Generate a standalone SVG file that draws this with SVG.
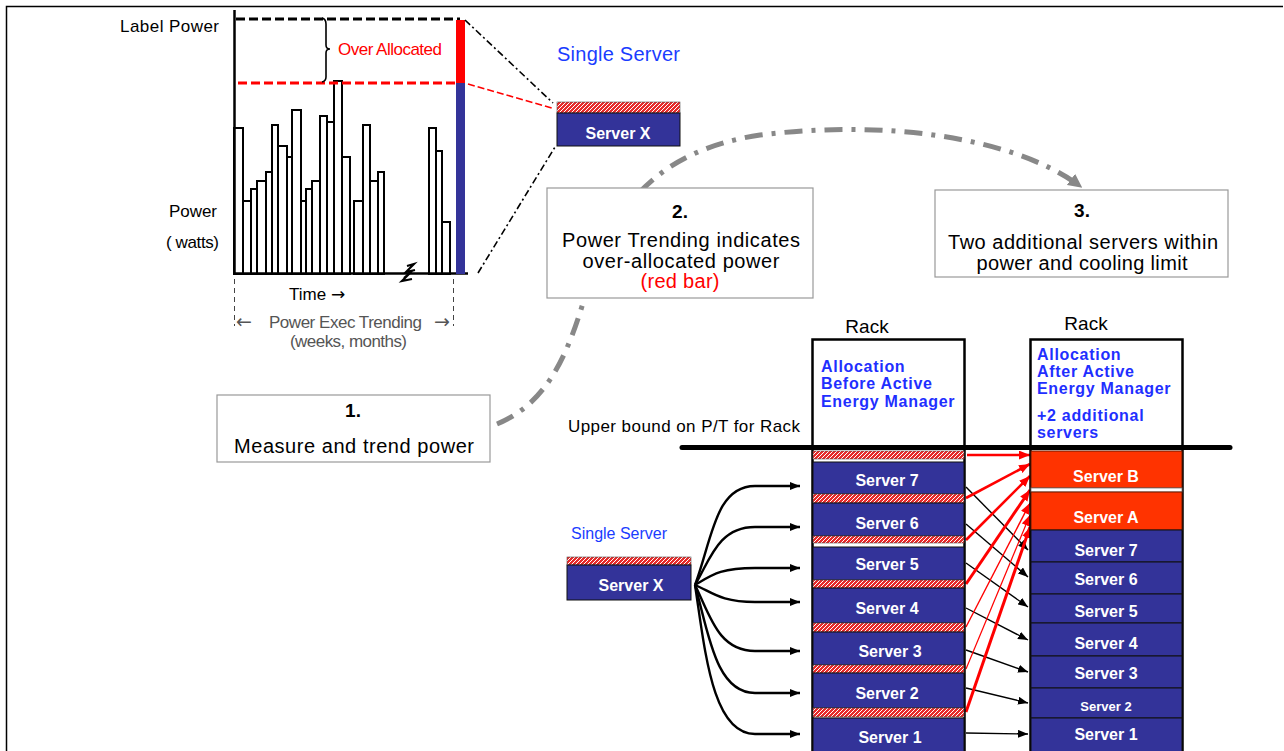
<svg xmlns="http://www.w3.org/2000/svg" width="1284" height="751" viewBox="0 0 1284 751">
<style>
text{font-family:"Liberation Sans",Arial,sans-serif}
.t15{font-size:17px;fill:#000}
.arw{font-family:"DejaVu Sans",sans-serif;font-size:19px}
.box{fill:#fff;stroke:#999;stroke-width:1.2}
.bt{font-size:20px;fill:#000;text-anchor:middle}
.bn{font-size:19px;font-weight:bold;fill:#000;text-anchor:middle}
.bar{fill:#fff;stroke:#000;stroke-width:2}
.srv{fill:#333399;stroke:#111;stroke-width:1}
.new{fill:#ff3300;stroke:#6a1a00;stroke-width:1}
.hat{fill:url(#hatch);stroke:#555;stroke-width:0.6}
.st{font-size:16px;font-weight:bold;fill:#fff;text-anchor:middle}
.alloc{font-size:16px;font-weight:bold;fill:#1f2fff;letter-spacing:0.7px}
.fan{fill:none;stroke:#000;stroke-width:2.4;marker-end:url(#ab)}
.blk{fill:none;stroke:#000;stroke-width:1.4;marker-end:url(#ab)}
.red{fill:none;stroke:#ff0000;marker-end:url(#ar)}
</style>
<defs>
<pattern id="hatch" width="4" height="4" patternUnits="userSpaceOnUse">
<rect width="4" height="4" fill="#e62b2b"/>
<path d="M-1,1 L1,-1 M0,4 L4,0 M3,5 L5,3" stroke="#fff" stroke-width="1"/>
</pattern>
<marker id="ab" viewBox="0 0 10 8" refX="10" refY="4" markerWidth="10" markerHeight="8" markerUnits="userSpaceOnUse" orient="auto">
<path d="M0,0 L10,4 L0,8 Z" fill="#000"/>
</marker>
<marker id="ar" viewBox="0 0 10 8" refX="10" refY="4" markerWidth="11" markerHeight="9" markerUnits="userSpaceOnUse" orient="auto">
<path d="M0,0 L10,4 L0,8 Z" fill="#ff0000"/>
</marker>
<marker id="ag" viewBox="0 0 10 10" refX="8" refY="5" markerWidth="14" markerHeight="14" markerUnits="userSpaceOnUse" orient="auto">
<path d="M0,0 L10,5 L0,10 Z" fill="#888"/>
</marker>
</defs>

<!-- frame -->
<path d="M6.5,751 L6.5,6.5 L1283,6.5" fill="none" stroke="#000" stroke-width="1.5"/>

<!-- chart -->
<g id="chart">
<g>
<rect class="bar" x="234" y="128" width="9" height="146"/>
<rect class="bar" x="243" y="201" width="8" height="73"/>
<rect class="bar" x="251" y="189" width="6" height="85"/>
<rect class="bar" x="257" y="181" width="9" height="93"/>
<rect class="bar" x="266" y="172" width="6" height="102"/>
<rect class="bar" x="272" y="125" width="6" height="149"/>
<rect class="bar" x="278" y="146" width="9" height="128"/>
<rect class="bar" x="287" y="157" width="5" height="117"/>
<rect class="bar" x="292" y="110" width="9" height="164"/>
<rect class="bar" x="301" y="201" width="5" height="73"/>
<rect class="bar" x="306" y="189" width="6" height="85"/>
<rect class="bar" x="312" y="181" width="8" height="93"/>
<rect class="bar" x="320" y="116" width="7" height="158"/>
<rect class="bar" x="327" y="122" width="7" height="152"/>
<rect class="bar" x="334" y="81" width="8" height="193"/>
<rect class="bar" x="342" y="157" width="8" height="117"/>
<rect class="bar" x="354" y="201" width="9" height="73"/>
<rect class="bar" x="363" y="125" width="7" height="149"/>
<rect class="bar" x="370" y="181" width="8" height="93"/>
<rect class="bar" x="378" y="172" width="6" height="102"/>
<rect class="bar" x="429" y="128" width="7" height="146"/>
<rect class="bar" x="436" y="151" width="6" height="123"/>
<rect class="bar" x="442" y="222" width="8" height="52"/>
</g>
<line x1="234.5" y1="10" x2="234.5" y2="275" stroke="#000" stroke-width="2.5"/>
<line x1="233" y1="273.5" x2="468" y2="273.5" stroke="#000" stroke-width="2.5"/>
<path d="M407,266 L414,264 L406,272 L415,270 M404,278 L412,271 L402,281 L412,279" fill="none" stroke="#000" stroke-width="2.2"/>
<line x1="236" y1="19" x2="460" y2="19" stroke="#000" stroke-width="3" stroke-dasharray="9 4"/>
<line x1="238" y1="83" x2="456" y2="83" stroke="#ff0000" stroke-width="3" stroke-dasharray="9 4"/>
<rect x="456" y="20" width="9" height="63" fill="#ff0000"/>
<rect x="456" y="83" width="9" height="191" fill="#333399"/>
<path d="M322,18 Q326,19 326,24 L326,45 Q326,49 330,49 Q326,49 326,53 L326,77 Q326,81 322,82" fill="none" stroke="#000" stroke-width="1.6"/>
<text x="338" y="55" textLength="104" lengthAdjust="spacing" style="font-size:17px;fill:#ff0000">Over Allocated</text>
<text class="t15" x="120" y="32" textLength="99" lengthAdjust="spacing">Label Power</text>
<text class="t15" x="169" y="217" textLength="48" lengthAdjust="spacing">Power</text>
<text class="t15" x="166" y="248" textLength="53" lengthAdjust="spacing">( watts)</text>
<line x1="234.5" y1="279" x2="234.5" y2="326" stroke="#444" stroke-width="1" stroke-dasharray="5 4"/>
<line x1="453.5" y1="279" x2="453.5" y2="326" stroke="#444" stroke-width="1" stroke-dasharray="5 4"/>
<text class="t15" x="289" y="300">Time <tspan class="arw" style="font-size:17px">→</tspan></text>
<text class="arw" x="236" y="328" style="fill:#555">←</text>
<text x="269" y="328" textLength="153" lengthAdjust="spacing" style="font-size:17px;fill:#555">Power Exec Trending</text>
<text class="arw" x="434" y="328" style="fill:#555">→</text>
<text x="290" y="347" textLength="117" lengthAdjust="spacing" style="font-size:17px;fill:#555">(weeks, months)</text>
</g>

<!-- connectors -->
<g id="connectors">
<line x1="465" y1="20" x2="553" y2="103" stroke="#000" stroke-width="1.6" stroke-dasharray="7 3 2 3"/>
<line x1="478" y1="273" x2="555" y2="147" stroke="#000" stroke-width="1.6" stroke-dasharray="7 3 2 3"/>
<line x1="468" y1="84" x2="552" y2="108" stroke="#ff0000" stroke-width="1.6" stroke-dasharray="7 3"/>
<path d="M497,424 C555,400 572,340 590,280 C615,205 660,150 760,135 C880,120 1010,135 1080,186" fill="none" stroke="#888" stroke-width="5" stroke-dasharray="18 9 4 9" marker-end="url(#ag)"/>
<path class="fan" d="M695,585 C712,540 715,486 755,486 L800,486"/>
<path class="fan" d="M695,585 C710,560 718,527 755,527 L800,527"/>
<path class="fan" d="M695,585 C712,575 720,568 755,568 L800,568"/>
<path class="fan" d="M695,585 C712,592 720,602 755,602 L800,602"/>
<path class="fan" d="M695,585 C710,615 718,651 755,651 L800,651"/>
<path class="fan" d="M695,585 C708,630 715,693 755,693 L800,693"/>
<path class="fan" d="M695,585 C705,650 712,734 755,734 L800,734"/>
<line class="blk" x1="966" y1="487" x2="1028" y2="550"/>
<line class="blk" x1="966" y1="524" x2="1028" y2="577"/>
<line class="blk" x1="966" y1="563" x2="1028" y2="607"/>
<line class="blk" x1="966" y1="608" x2="1028" y2="640"/>
<line class="blk" x1="966" y1="650" x2="1028" y2="672"/>
<line class="blk" x1="966" y1="688" x2="1028" y2="703"/>
<line class="blk" x1="966" y1="733" x2="1028" y2="734"/>
<line class="red" stroke-width="2.6" x1="967" y1="455" x2="1030" y2="455"/>
<line class="red" stroke-width="2.6" x1="966" y1="498" x2="1030" y2="464"/>
<line class="red" stroke-width="2.6" x1="966" y1="540" x2="1030" y2="476"/>
<line class="red" stroke-width="3" x1="966" y1="584" x2="1030" y2="490"/>
<line class="red" stroke-width="1.4" x1="966" y1="627" x2="1030" y2="503"/>
<line class="red" stroke-width="1.2" x1="966" y1="669" x2="1030" y2="515"/>
<line class="red" stroke-width="3" x1="966" y1="712" x2="1030" y2="527"/>
</g>

<!-- single server top -->
<g id="server-x-top">
<text x="557" y="61" textLength="123" lengthAdjust="spacing" style="font-size:20px;fill:#1a3cff">Single Server</text>
<rect class="hat" x="557" y="102" width="123" height="11"/>
<rect class="srv" x="557" y="113" width="123" height="33"/>
<text class="st" x="618" y="139">Server X</text>
</g>

<!-- step boxes -->
<g id="step1">
<rect class="box" x="217" y="395" width="273" height="67"/>
<text class="bn" x="353" y="417">1.</text>
<text class="bt" x="354" y="453" textLength="240" lengthAdjust="spacing">Measure and trend power</text>
</g>
<g id="step2">
<rect class="box" x="547" y="188" width="266" height="110"/>
<text class="bn" x="680" y="218">2.</text>
<text class="bt" x="681" y="247" textLength="238" lengthAdjust="spacing">Power Trending indicates</text>
<text class="bt" x="681" y="268" textLength="197" lengthAdjust="spacing">over-allocated power</text>
<text class="bt" x="680" y="288" textLength="79" lengthAdjust="spacing" style="fill:#ff0000">(red bar)</text>
</g>
<g id="step3">
<rect class="box" x="935" y="190" width="293" height="87"/>
<text class="bn" x="1082" y="217">3.</text>
<text class="bt" x="1083" y="249" textLength="270" lengthAdjust="spacing">Two additional servers within</text>
<text class="bt" x="1082" y="270" textLength="211" lengthAdjust="spacing">power and cooling limit</text>
</g>

<!-- left single server -->
<g id="server-x-left">
<text x="571" y="539" style="font-size:16px;fill:#1a3cff">Single Server</text>
<rect class="hat" x="567" y="557" width="124" height="8"/>
<rect class="srv" x="567" y="565" width="124" height="35"/>
<text class="st" x="631" y="591">Server X</text>
</g>

<!-- rack before -->
<g id="rack-before">
<text x="867" y="333" text-anchor="middle" style="font-size:19px;fill:#000">Rack</text>
<rect x="812.5" y="339.5" width="152" height="420" fill="#fff" stroke="#000" stroke-width="2.5"/>
<text class="alloc" x="821" y="372">Allocation</text>
<text class="alloc" x="821" y="389">Before Active</text>
<text class="alloc" x="821" y="407">Energy Manager</text>
<rect class="hat" x="813" y="451" width="151" height="8"/>
<rect class="srv" x="813" y="462" width="151" height="32"/>
<text class="st" x="887" y="486">Server 7</text>
<rect class="hat" x="813" y="494" width="151" height="9"/>
<rect class="srv" x="813" y="503" width="151" height="33"/>
<text class="st" x="887" y="529">Server 6</text>
<rect class="hat" x="813" y="536" width="151" height="7"/>
<rect class="srv" x="813" y="547" width="151" height="33"/>
<text class="st" x="887" y="570">Server 5</text>
<rect class="hat" x="813" y="580" width="151" height="8"/>
<rect class="srv" x="813" y="588" width="151" height="35"/>
<text class="st" x="887" y="614">Server 4</text>
<rect class="hat" x="813" y="623" width="151" height="9"/>
<rect class="srv" x="813" y="632" width="151" height="33"/>
<text class="st" x="890" y="657">Server 3</text>
<rect class="hat" x="813" y="665" width="151" height="8"/>
<rect class="srv" x="813" y="673" width="151" height="35"/>
<text class="st" x="887" y="699">Server 2</text>
<rect class="hat" x="813" y="708" width="151" height="9"/>
<rect class="srv" x="813" y="718" width="151" height="40"/>
<text class="st" x="890" y="743">Server 1</text>
</g>

<!-- rack after -->
<g id="rack-after">
<text x="1086" y="330" text-anchor="middle" style="font-size:19px;fill:#000">Rack</text>
<rect x="1030.5" y="339.5" width="152" height="420" fill="#fff" stroke="#000" stroke-width="2.5"/>
<text class="alloc" x="1037" y="360">Allocation</text>
<text class="alloc" x="1037" y="377">After Active</text>
<text class="alloc" x="1037" y="394">Energy Manager</text>
<text class="alloc" x="1037" y="421">+2 additional</text>
<text class="alloc" x="1037" y="438">servers</text>
<rect class="new" x="1031" y="451" width="151" height="37"/>
<text class="st" x="1106" y="482">Server B</text>
<rect x="1031" y="488" width="151" height="4" fill="#fff" stroke="#777" stroke-width="0.8"/>
<rect class="new" x="1031" y="492" width="151" height="38"/>
<text class="st" x="1106" y="523">Server A</text>
<rect class="srv" x="1031" y="530" width="151" height="32"/>
<text class="st" x="1106" y="556">Server 7</text>
<rect class="srv" x="1031" y="562" width="151" height="32"/>
<text class="st" x="1106" y="585">Server 6</text>
<rect class="srv" x="1031" y="594" width="151" height="29"/>
<text class="st" x="1106" y="617">Server 5</text>
<rect class="srv" x="1031" y="623" width="151" height="33"/>
<text class="st" x="1106" y="649">Server 4</text>
<rect class="srv" x="1031" y="656" width="151" height="32"/>
<text class="st" x="1106" y="679">Server 3</text>
<rect class="srv" x="1031" y="688" width="151" height="30"/>
<text class="st" x="1106" y="711" style="font-size:13px">Server 2</text>
<rect class="srv" x="1031" y="718" width="151" height="40"/>
<text class="st" x="1106" y="740">Server 1</text>
</g>

<!-- upper bound -->
<g id="upper-bound">
<text x="568" y="432" textLength="232" lengthAdjust="spacing" style="font-size:17px;fill:#000">Upper bound on P/T for Rack</text>
<line x1="682" y1="447.5" x2="1230" y2="447.5" stroke="#000" stroke-width="5" stroke-linecap="round"/>
</g>
</svg>
